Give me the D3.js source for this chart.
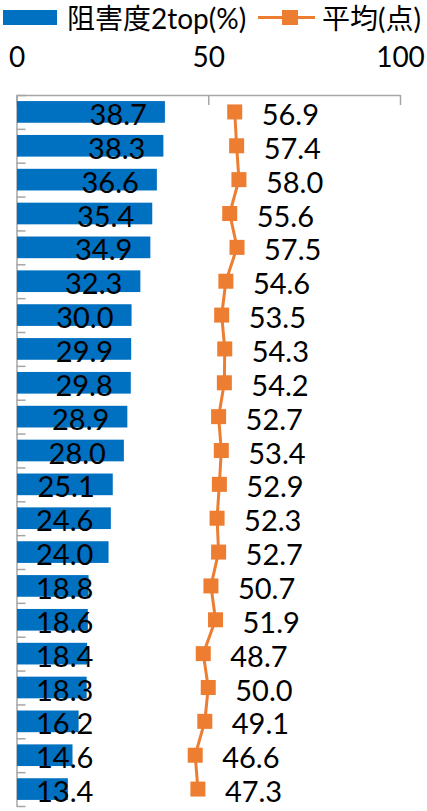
<!DOCTYPE html>
<html>
<head>
<meta charset="utf-8">
<script src="https://cdn.jsdelivr.net/npm/d3@7"></script>
<style>
  html, body { margin: 0; padding: 0; background: #fff; }
  svg { display: block; }
  text { font-family: Lato, "Noto Sans CJK JP", sans-serif; fill: #000; }
</style>
</head>
<body>
<script>
// Share of "2 top" impairment (%) per item, and average score (points)
const barValues = [38.7, 38.3, 36.6, 35.4, 34.9, 32.3, 30.0, 29.9, 29.8, 28.9, 28.0,
                   25.1, 24.6, 24.0, 18.8, 18.6, 18.4, 18.3, 16.2, 14.6, 13.4];
const lineValues = [56.9, 57.4, 58.0, 55.6, 57.5, 54.6, 53.5, 54.3, 54.2, 52.7, 53.4,
                    52.9, 52.3, 52.7, 50.7, 51.9, 48.7, 50.0, 49.1, 46.6, 47.3];
const xTicks = [0, 50, 100];
const seriesNames = ["阻害度2top(%)", "平均(点)"];

const W = 427, H = 811;
const BLUE = "#0070C0", ORANGE = "#ED7D31", GREY = "#A6A6A6";

const svg = d3.select("body").append("svg").attr("width", W).attr("height", H);

const x = d3.scaleLinear().domain([0, 100]).range([16.5, 400]);
const idx = d3.range(barValues.length);
const y = d3.scaleBand().domain(idx).range([95, 806]).paddingInner(0.36).paddingOuter(0.18);
const yEdge = d3.scaleLinear().domain([0, barValues.length]).range([95, 806]);
const yc = i => y(i) + y.bandwidth() / 2;

// Top value axis, ticks pointing into the plot
const xAxis = svg.append("g").attr("transform", "translate(0,95)")
  .call(d3.axisTop(x).tickValues(xTicks).tickSizeInner(-10).tickSizeOuter(0).tickPadding(28));
xAxis.select(".domain").attr("stroke", GREY).attr("stroke-width", 1.5);
xAxis.selectAll(".tick line").attr("stroke", GREY).attr("stroke-width", 1.5);
xAxis.selectAll(".tick text").attr("font-size", 28).attr("fill", "#000")
  .style("font-family", "Lato, sans-serif");

// Left category axis with tick marks on the category boundaries
const yAxis = svg.append("g").attr("transform", "translate(16.5,0)")
  .call(d3.axisRight(yEdge).tickValues(d3.range(barValues.length + 1))
    .tickSizeInner(9).tickSizeOuter(0).tickFormat(""));
yAxis.select(".domain").attr("stroke", GREY).attr("stroke-width", 1.5);
yAxis.selectAll(".tick line").attr("stroke", GREY).attr("stroke-width", 1.5);

// Bars
svg.append("g").selectAll("rect").data(barValues).join("rect")
  .attr("x", x(0) + 0.5)
  .attr("y", (d, i) => y(i))
  .attr("width", d => x(d) - x(0) - 0.5)
  .attr("height", y.bandwidth())
  .attr("fill", BLUE);

// Bar labels, inside end, kept clear of the left axis
const barLabels = svg.append("g").selectAll("text").data(barValues).join("text")
  .attr("font-size", 29)
  .attr("text-anchor", "end")
  .attr("y", (d, i) => yc(i) + 13)
  .text(d => d.toFixed(1));
barLabels.each(function (d) {
  const w = this.getComputedTextLength();
  d3.select(this).attr("x", Math.max(x(d) - 18, 36 + w));
});

// Average line with square markers
const line = d3.line().x(d => x(d)).y((d, i) => yc(i));
svg.append("path").datum(lineValues)
  .attr("d", line).attr("fill", "none")
  .attr("stroke", ORANGE).attr("stroke-width", 3);
svg.append("g").selectAll("rect").data(lineValues).join("rect")
  .attr("x", d => x(d) - 7.5)
  .attr("y", (d, i) => yc(i) - 7.5)
  .attr("width", 15).attr("height", 15)
  .attr("fill", ORANGE);
svg.append("g").selectAll("text").data(lineValues).join("text")
  .attr("font-size", 29)
  .attr("x", d => x(d) + 27)
  .attr("y", (d, i) => yc(i) + 13)
  .text(d => d.toFixed(1));

// Legend
const lg = svg.append("g");
lg.append("rect").attr("x", 3).attr("y", 10).attr("width", 54).attr("height", 15).attr("fill", BLUE);
lg.append("text").attr("x", 67).attr("y", 29).attr("font-size", 28).text(seriesNames[0]);
lg.append("line").attr("x1", 258).attr("x2", 315).attr("y1", 17.5).attr("y2", 17.5)
  .attr("stroke", ORANGE).attr("stroke-width", 3);
lg.append("rect").attr("x", 282).attr("y", 10).attr("width", 16).attr("height", 15).attr("fill", ORANGE);
lg.append("text").attr("x", 322).attr("y", 29).attr("font-size", 28).text(seriesNames[1]);
</script>
</body>
</html>
